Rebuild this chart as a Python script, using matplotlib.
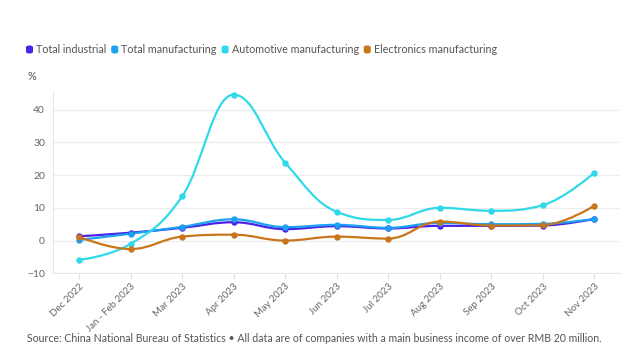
import numpy as np
import matplotlib
matplotlib.use("Agg")
import matplotlib.pyplot as plt
from matplotlib.path import Path
from matplotlib.patches import PathPatch, FancyBboxPatch

plt.rcParams['font.family'] = ['Lato', 'DejaVu Sans']

# 데이터
months = ["Dec 2022", "Jan - Feb 2023", "Mar 2023", "Apr 2023", "May 2023", "Jun 2023",
          "Jul 2023", "Aug 2023", "Sep 2023", "Oct 2023", "Nov 2023"]
total_industrial = [1.3, 2.4, 3.9, 5.6, 3.5, 4.4, 3.7, 4.5, 4.5, 4.6, 6.6]
total_manufacturing = [0.2, 2.1, 4.2, 6.5, 4.1, 4.8, 3.9, 5.4, 5.0, 5.1, 6.6]
automotive = [-5.9, -1.0, 13.5, 44.6, 23.8, 8.8, 6.3, 10.0, 9.1, 10.8, 20.7]
electronics = [1.1, -2.6, 1.2, 1.8, 0.0, 1.2, 0.6, 5.8, 4.6, 4.7, 10.6]

series = [
    ("Total industrial", total_industrial, "#4a22e8"),
    ("Total manufacturing", total_manufacturing, "#1ca0f2"),
    ("Automotive manufacturing", automotive, "#2fd9e8"),
    ("Electronics manufacturing", electronics, "#c9761a"),
]


def spline_path(xs, ys, smoothing=1.5):
    # 스플라인 곡선 (베지어 제어점)
    n = len(xs)
    left = [None] * n
    right = [None] * n
    denom = smoothing + 1
    for i in range(n):
        px, py = xs[i], ys[i]
        if 0 < i < n - 1:
            lx, ly = xs[i - 1], ys[i - 1]
            nx, ny = xs[i + 1], ys[i + 1]
            lcx = (smoothing * px + lx) / denom
            lcy = (smoothing * py + ly) / denom
            rcx = (smoothing * px + nx) / denom
            rcy = (smoothing * py + ny) / denom
            if rcx != lcx:
                corr = ((rcy - lcy) * (rcx - px)) / (rcx - lcx) + py - rcy
                lcy += corr
                rcy += corr
            if lcy > ly and lcy > py:
                lcy = max(ly, py)
                rcy = 2 * py - lcy
            elif lcy < ly and lcy < py:
                lcy = min(ly, py)
                rcy = 2 * py - lcy
            if rcy > ny and rcy > py:
                rcy = max(ny, py)
                lcy = 2 * py - rcy
            elif rcy < ny and rcy < py:
                rcy = min(ny, py)
                lcy = 2 * py - rcy
            left[i] = (lcx, lcy)
            right[i] = (rcx, rcy)
        else:
            left[i] = (px, py)
            right[i] = (px, py)
    verts = [(xs[0], ys[0])]
    codes = [Path.MOVETO]
    for i in range(1, n):
        verts += [right[i - 1], left[i], (xs[i], ys[i])]
        codes += [Path.CURVE4] * 3
    return Path(verts, codes)


fig = plt.figure(figsize=(6.25, 3.57), dpi=100)
ax = fig.add_axes([0.0853, 0.2345, 0.9067, 0.5105])

x = np.arange(len(months))
for name, vals, color in series:
    p = spline_path(list(x), vals)
    ax.add_patch(PathPatch(p, facecolor="none", edgecolor=color, lw=1.6, zorder=3))
    ax.plot(x, vals, "o", color=color, ms=3.6, zorder=4)

ax.set_xlim(-0.5, 10.5)
ax.set_ylim(-10, 45.7)
ax.set_yticks([-10, 0, 10, 20, 30, 40])
ax.set_xticks(x)
ax.set_xticklabels(months, rotation=45, ha="right", rotation_mode="anchor")
ax.tick_params(axis="x", length=4, color="#e0e0e0", labelsize=7, labelcolor="#666666", pad=2)
ax.tick_params(axis="y", length=0, labelsize=7.5, labelcolor="#666666", pad=6)
ax.grid(axis="y", color="#ececec", lw=0.8)
ax.set_axisbelow(True)
for s in ["top", "right"]:
    ax.spines[s].set_visible(False)
ax.spines["left"].set_color("#e6e6e6")
ax.spines["bottom"].set_color("#e6e6e6")
ax.spines["left"].set_linewidth(0.8)
ax.spines["bottom"].set_linewidth(0.8)

# 범례
lx = 26
for name, vals, color in series:
    fig.patches.append(FancyBboxPatch((lx / 625, 1 - 53.5 / 357), 7 / 625, 8 / 357,
                                      boxstyle="round,pad=0,rounding_size=0.005",
                                      transform=fig.transFigure, facecolor=color,
                                      edgecolor="none"))
    t = fig.text((lx + 10) / 625, 1 - 49.5 / 357, name, fontsize=7.75, color="#555555",
                 va="center", ha="left")
    fig.canvas.draw()
    bb = t.get_window_extent()
    lx = bb.x1 + 5

fig.text(27 / 625, 1 - 77 / 357, "%", fontsize=7.8, color="#555555", va="center")
fig.text(27 / 625, 1 - 338 / 357,
         "Source: China National Bureau of Statistics \u2022 All data are of companies with a main business income of over RMB 20 million.",
         fontsize=7.6, color="#555555", va="center")

fig.savefig("out.png", dpi=100)
